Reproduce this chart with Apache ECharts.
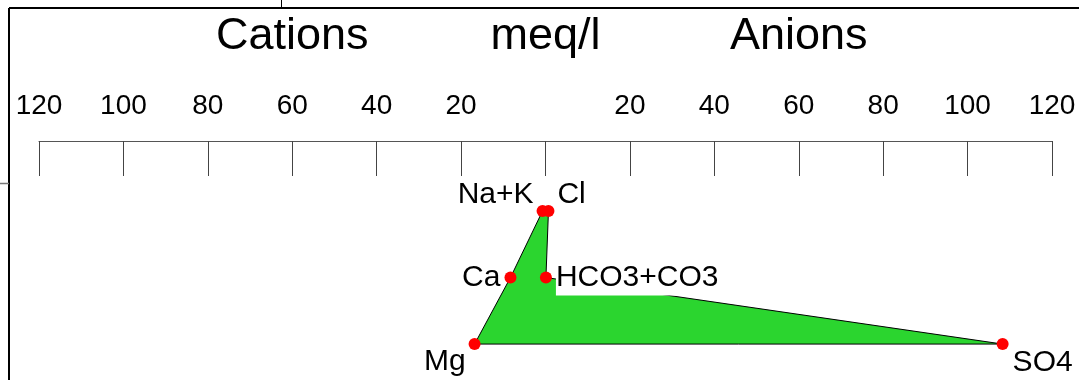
<!DOCTYPE html>
<html>
<head>
<meta charset="utf-8">
<script src="https://cdn.jsdelivr.net/npm/echarts@6/dist/echarts.min.js"></script>
<style>
html,body{margin:0;padding:0;background:#fff;}
#chart{width:1079px;height:380px;}
</style>
</head>
<body>
<div id="chart"></div>
<script>
// Stiff diagram data (meq/l)
const cationNames = ['Na+K', 'Ca', 'Mg'];
const cationValues = [0.7, 8.3, 16.8];
const anionNames = ['Cl', 'HCO3+CO3', 'SO4'];
const anionValues = [0.7, 0.1, 108.3];
const rows = [1, 2, 3];
const headerPositions = [-60, 0, 60];
const headerLabels = ['Cations', 'meq/l', 'Anions'];

const FONT = '"Liberation Sans", Arial, sans-serif';

// polygon vertices: cations (negative side) top->bottom, then anions bottom->top
const polygon = [];
cationNames.forEach((n, i) => polygon.push([-cationValues[i], rows[i]]));
for (let i = anionNames.length - 1; i >= 0; i--) polygon.push([anionValues[i], rows[i]]);

const labelCfg = {
  'Na+K': {position: 'left', distance: 3, offset: [0, -16]},
  'Ca': {position: 'left', distance: 4, offset: [0, 0]},
  'Mg': {position: 'left', distance: 3, offset: [0, 18]},
  'Cl': {position: 'right', distance: 3, offset: [0, -16]},
  'HCO3+CO3': {position: 'right', distance: 4, offset: [0, 0], backgroundColor: '#fff', padding: [2, 4, 4, 0]},
  'SO4': {position: 'right', distance: 4, offset: [0, 19]}
};

const points = [];
cationNames.forEach((n, i) => points.push({name: n, value: [-cationValues[i], rows[i]], label: Object.assign({show: true}, labelCfg[n])}));
anionNames.forEach((n, i) => points.push({name: n, value: [anionValues[i], rows[i]], label: Object.assign({show: true}, labelCfg[n])}));

const chart = echarts.init(document.getElementById('chart'), null, {renderer: 'canvas'});
chart.setOption({
  animation: false,
  backgroundColor: '#fff',
  grid: {left: 39, right: 27, top: 141, bottom: 0, containLabel: false},
  xAxis: [{
    type: 'value', position: 'top', min: -120, max: 120, interval: 20,
    axisLine: {show: true, onZero: false, lineStyle: {color: '#555', width: 1}},
    axisTick: {show: true, inside: true, length: 35, lineStyle: {color: '#444', width: 1}},
    splitLine: {show: false},
    axisLabel: {
      margin: 21, color: '#000', fontSize: 28, fontFamily: FONT,
      formatter: v => v === 0 ? '' : String(Math.abs(v))
    }
  }, {
    type: 'value', position: 'top', min: -120, max: 120, interval: 60,
    axisLine: {show: false, onZero: false}, axisTick: {show: false}, splitLine: {show: false},
    axisLabel: {
      margin: 82, color: '#000', fontSize: 45, fontFamily: FONT,
      formatter: v => { const k = headerPositions.indexOf(v); return k >= 0 ? headerLabels[k] : ''; }
    }
  }],
  yAxis: {
    type: 'value', inverse: true, min: -0.0526, max: 3.54, show: false
  },
  series: [{
    type: 'custom',
    xAxisIndex: 0,
    z: 2,
    data: [0],
    renderItem: (params, api) => ({
      type: 'polygon',
      shape: {points: polygon.map(p => api.coord(p))},
      style: {fill: '#2bd52f', stroke: '#000', lineWidth: 1}
    })
  }, {
    type: 'scatter',
    xAxisIndex: 0,
    z: 5,
    symbol: 'circle', symbolSize: 12,
    itemStyle: {color: '#ff0000', opacity: 1},
    label: {show: true, color: '#000', fontSize: 30, fontFamily: FONT, formatter: p => p.name},
    data: points
  }],
  graphic: [
    {type: 'line', shape: {x1: 9, y1: 8, x2: 1079, y2: 8}, style: {stroke: '#000', lineWidth: 2}, z: 100},
    {type: 'line', shape: {x1: 9, y1: 8, x2: 9, y2: 380}, style: {stroke: '#000', lineWidth: 2}, z: 100},
    {type: 'line', shape: {x1: 281.5, y1: 0, x2: 281.5, y2: 8}, style: {stroke: '#000', lineWidth: 1}, z: 100},
    {type: 'line', shape: {x1: 0, y1: 183.5, x2: 9, y2: 183.5}, style: {stroke: '#777', lineWidth: 1.5}, z: 100}
  ]
});
</script>
</body>
</html>
